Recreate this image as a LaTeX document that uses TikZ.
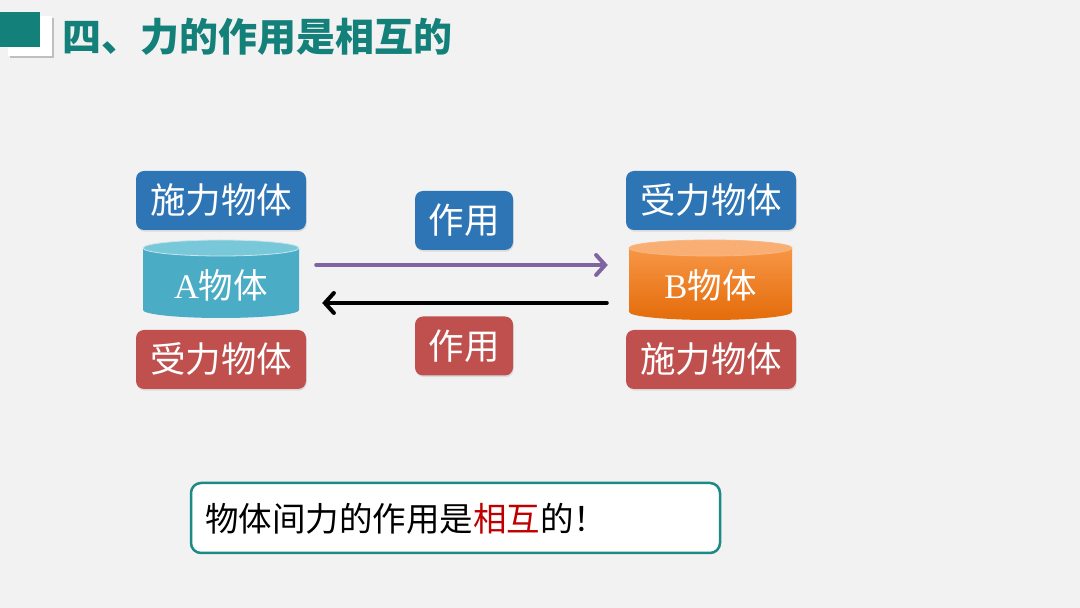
\documentclass[tikz,border=0pt]{standalone}
\usepackage{fontspec}
\setmainfont{Liberation Serif}
\newfontfamily\cjk{Noto Sans CJK SC}
\usetikzlibrary{arrows.meta,shadows}
\definecolor{bgc}{RGB}{242,242,242}
\definecolor{teal1}{RGB}{20,128,122}
\definecolor{tealb}{RGB}{30,138,133}
\definecolor{boxblue}{RGB}{46,117,182}
\definecolor{boxred}{RGB}{192,80,77}
\definecolor{cylA}{RGB}{75,172,198}
\definecolor{cylAtop}{RGB}{120,200,218}
\definecolor{cylB}{RGB}{247,150,70}
\definecolor{cylBdark}{RGB}{228,108,10}
\definecolor{cylBtop}{RGB}{249,175,115}
\definecolor{arrpurple}{RGB}{128,100,162}
\definecolor{hired}{RGB}{192,0,0}
\tikzset{
  labelbox/.style={rounded corners=8pt, text=white, font=\cjk\fontsize{35.5}{40}\selectfont,
    minimum width=170pt, minimum height=59pt, inner sep=0pt,
    drop shadow={opacity=0.2, shadow xshift=0.8pt, shadow yshift=-1.6pt}},
  actbox/.style={labelbox, minimum width=98pt},
  cyltext/.style={text=white, font=\fontsize{34.5}{40}\selectfont, inner sep=0pt, minimum height=40pt},
  forcearrow/.style={line width=4pt, line cap=round,
    -{Straight Barb[length=9pt,width=20pt,line width=4pt,line cap=round]}},
}
\begin{document}
\begin{tikzpicture}[x=1pt,y=1pt]
\useasboundingbox (0,0) rectangle (1080,608);
\fill[bgc] (0,0) rectangle (1080,608);
% title icon
\fill[black!25] (10,550) rectangle (54,590);
\fill[white] (8,552) rectangle (52,592);
\fill[teal1] (0,561) rectangle (40,596);
\node[anchor=west, text=teal1, font=\cjk\bfseries\fontsize{39}{44}\selectfont, inner sep=0pt] (title) at (62,571) {四、力的作用是相互的};
% left column
\node[labelbox, fill=boxblue] (shiA) at (221,407.5) {施力物体};
\node[labelbox, fill=boxred] (shouA) at (221,248.5) {受力物体};
% cylinder A
\fill[cylA] (143,360) -- (143,298) arc[start angle=180,end angle=360,x radius=78,y radius=8] -- (299,360) -- cycle;
\fill[cylAtop] (221,360) ellipse[x radius=78, y radius=8];
\draw[white!70!cylA, line width=0.8pt] (221,360) ellipse[x radius=78, y radius=8];
\node[cyltext, minimum width=156pt] (A) at (221,323) {A\cjk 物体};
% right column
\node[labelbox, fill=boxblue] (shouB) at (711,407.5) {受力物体};
\node[labelbox, fill=boxred] (shiB) at (711,248.5) {施力物体};
% cylinder B
\shade[top color=cylB, bottom color=cylBdark] (629,360) -- (629,296) arc[start angle=180,end angle=360,x radius=81.5,y radius=8] -- (792,360) -- cycle;
\fill[cylBtop] (710.5,360) ellipse[x radius=81.5, y radius=8];
\draw[cylB!70!white, line width=0.8pt] (710.5,360) ellipse[x radius=81.5, y radius=8];
\node[cyltext, minimum width=163pt] (B) at (710.5,323) {B\cjk 物体};
% action labels
\node[actbox, fill=boxblue] (act1) at (464,387.5) {作用};
\node[actbox, fill=boxred] (act2) at (464,262) {作用};
% arrows
\draw[forcearrow, arrpurple] ([xshift=17pt,yshift=20pt]A.east) -- ([xshift=-21pt,yshift=20pt]B.west);
\draw[forcearrow, black] ([xshift=-22pt,yshift=-18pt]B.west) -- ([xshift=23pt,yshift=-18pt]A.east);
% conclusion
\node[draw=tealb, line width=2.5pt, fill=white, rounded corners=10pt, minimum width=529pt, minimum height=70pt, inner sep=0pt] (concl) at (455.5,90) {};
\node[anchor=west, font=\cjk\fontsize{33.5}{40}\selectfont, inner sep=0pt] (conclt) at (205,89) {物体间力的作用是\textcolor{hired}{相互}的！};
\end{tikzpicture}
\end{document}
